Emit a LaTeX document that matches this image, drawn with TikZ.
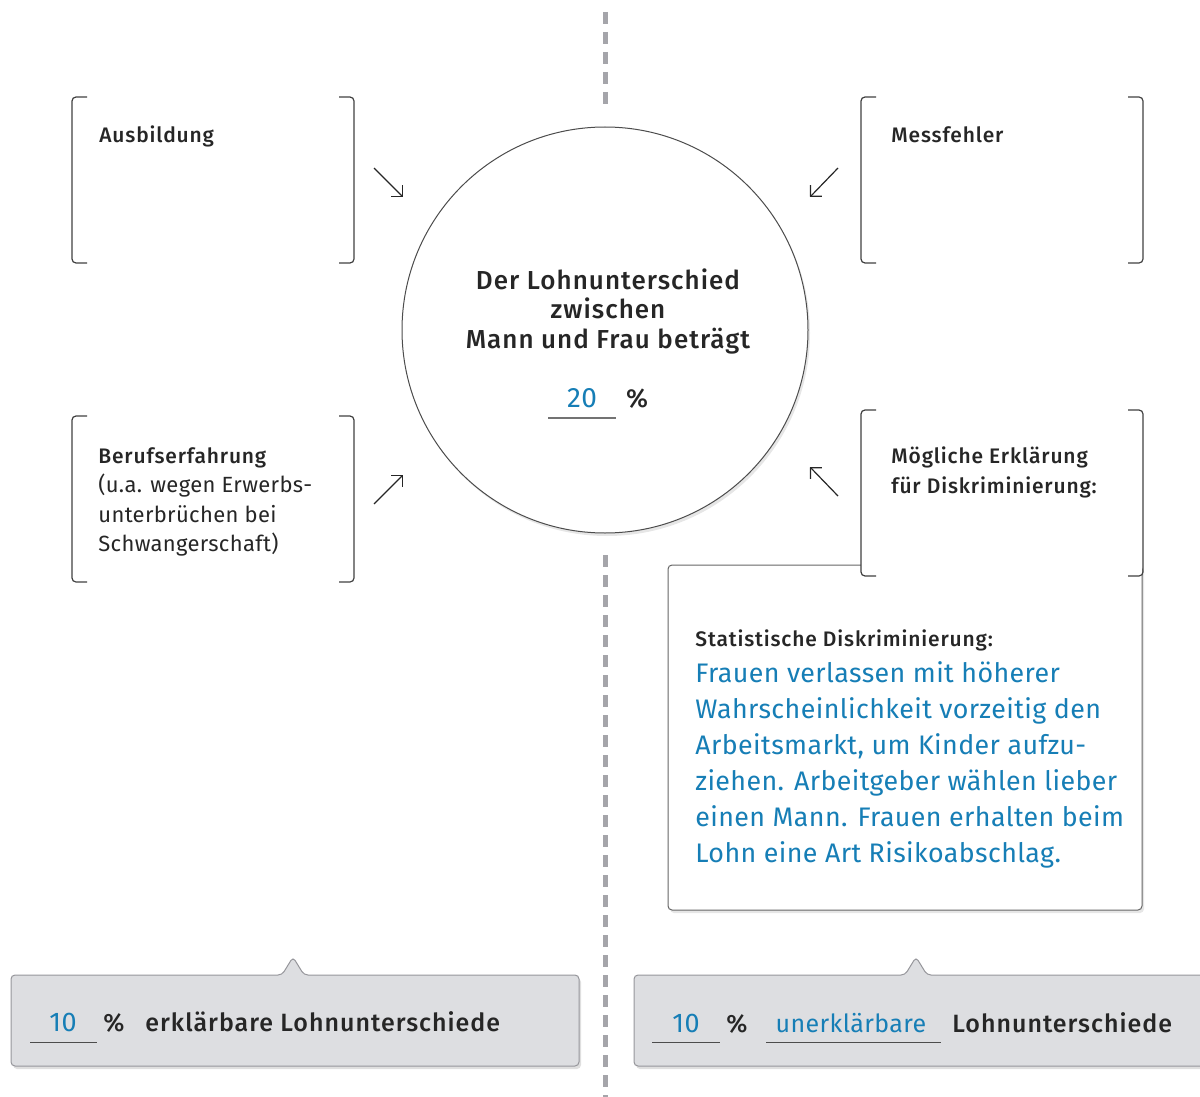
\documentclass[tikz,border=0pt]{standalone}
\usepackage{fontspec}
\setmainfont{Fira Sans}[LetterSpace=1.5, BoldFont={Fira Sans Medium}, BoldFeatures={LetterSpace=4}]
\usepackage{tikz}
\usetikzlibrary{arrows.meta}
\usetikzlibrary{shadows}

\definecolor{textblue}{RGB}{22,126,182}
\definecolor{boxgray}{RGB}{221,222,225}
\definecolor{linegray}{RGB}{150,150,155}
\definecolor{dashgray}{RGB}{165,165,170}

\tikzset{
	bracketline/.style={draw=black!75, line width=0.6pt, rounded corners=2pt},
	hintarrow/.style={draw=black!85, line width=0.6pt, -{Straight Barb[length=4pt,width=8pt]}},
	graybox/.style={fill=boxgray, draw=linegray, line width=0.5pt, rounded corners=2pt,
		drop shadow={opacity=0.25, shadow xshift=1pt, shadow yshift=-1.5pt}},
	labelbold/.style={anchor=base west, inner sep=0pt, font=\fontsize{10.5}{14}\selectfont\bfseries, text=black!85},
	labelplain/.style={anchor=base west, inner sep=0pt, font=\fontsize{11}{14}\selectfont, text=black!85},
	bluetext/.style={anchor=base west, inner sep=0pt, font=\fontsize{13.4}{18}\selectfont, text=textblue},
	sumtext/.style={anchor=base west, inner sep=0pt, font=\fontsize{12.5}{14}\selectfont\bfseries, text=black!85},
	sumnum/.style={anchor=base, inner sep=0pt, font=\fontsize{13.5}{14}\selectfont, text=textblue}
}

\begin{document}
\begin{tikzpicture}[x=0.5pt, y=-0.5pt]
		\useasboundingbox (0,0) rectangle (1200,1097);
		% dashed middle line
		\draw[dashgray, line width=2.5pt, dash pattern=on 6pt off 4pt] (605,12) -- (605,108);
		\draw[dashgray, line width=2.5pt, dash pattern=on 6pt off 4pt] (605,555) -- (605,1097);

		% central circle
		\node[circle, draw=black!70, line width=0.5pt, fill=white, minimum size=203pt, inner sep=0pt,
			drop shadow={opacity=0.2, shadow xshift=1pt, shadow yshift=-1.5pt}] (gap) at (605,330) {};
		\node[anchor=base, inner sep=0pt, font=\fontsize{13}{15}\selectfont\bfseries, text=black!85] (gaptitle) at (608,289) {Der Lohnunterschied};
		\node[anchor=base, inner sep=0pt, font=\fontsize{13}{15}\selectfont\bfseries, text=black!85] (gapwith) at (608,318) {zwischen};
		\node[anchor=base, inner sep=0pt, font=\fontsize{13}{15}\selectfont\bfseries, text=black!85] (gapmf) at (608,348) {Mann und Frau beträgt};
		\node[sumnum, font=\fontsize{14}{14}\selectfont] (gapnum) at (582,407) {20};
		\node[sumtext, anchor=base, font=\fontsize{13}{14}\selectfont\bfseries] (gappct) at (637,407) {\%};
		\coordinate (gapulA) at (548,418);
		\coordinate (gapulB) at (616,418);
		\draw[black!55, line width=0.6pt] (gapulA) -- (gapulB);

		% big explanation box
		\draw[fill=white, draw=black!60, line width=0.5pt, rounded corners=2pt,
			drop shadow={opacity=0.2, shadow xshift=1pt, shadow yshift=-1.5pt}] (668,565) rectangle (1142,910);
		\node[labelbold] (stat) at (695,646) {Statistische Diskriminierung:};
		\node[bluetext] (statA) at (695,682) {Frauen verlassen mit höherer};
		\node[bluetext] (statB) at (695,718) {Wahrscheinlichkeit vorzeitig den};
		\node[bluetext] (statC) at (695,754) {Arbeitsmarkt, um Kinder aufzu-};
		\node[bluetext] (statD) at (695,790) {ziehen. Arbeitgeber wählen lieber};
		\node[bluetext] (statE) at (695,826) {einen Mann. Frauen erhalten beim};
		\node[bluetext] (statF) at (695,862) {Lohn eine Art Risikoabschlag.};

		% bracket boxes
		\fill[white] (861,410) rectangle (1142,576);
		\foreach \bx/\by in {72/97, 861/97, 72/416, 861/410} {
			\draw[bracketline] (\bx+15,\by) -- (\bx,\by) -- (\bx,\by+166) -- (\bx+15,\by+166);
			\draw[bracketline] (\bx+267,\by) -- (\bx+282,\by) -- (\bx+282,\by+166) -- (\bx+267,\by+166);
		}
		\node[labelbold] (educ) at (99,143) {Ausbildung};
		\node[labelbold] (error) at (891,143) {Messfehler};
		\node[labelbold] (exper) at (98,463) {Berufserfahrung};
		\node[labelplain] (experA) at (98,492) {(u.a. wegen Erwerbs-};
		\node[labelplain] (experB) at (98,522) {unterbrüchen bei};
		\node[labelplain] (experC) at (98,551) {Schwangerschaft)};
		\node[labelbold] (discr) at (891,463) {Mögliche Erklärung};
		\node[labelbold] (discrB) at (891,493) {für Diskriminierung:};

		% arrows towards the circle
		\coordinate (educS) at (374,168);  \coordinate (educE) at (403,197);
		\coordinate (errorS) at (838,168); \coordinate (errorE) at (810,197);
		\coordinate (experS) at (374,504); \coordinate (experE) at (403,475);
		\coordinate (discrS) at (838,496); \coordinate (discrE) at (810,467);
		\draw[hintarrow] (educS) -- (educE);
		\draw[hintarrow] (errorS) -- (errorE);
		\draw[hintarrow] (experS) -- (experE);
		\draw[hintarrow] (discrS) -- (discrE);

		% summary boxes
		\draw[graybox] (11,975) -- (282,975) -- (293,957) -- (304,975) -- (579,975) -- (579,1066) -- (11,1066) -- cycle;
		\draw[graybox] (634,975) -- (905,975) -- (916,957) -- (927,975) -- (1210,975) -- (1210,1066) -- (634,1066) -- cycle;

		\node[sumnum] (explnum) at (63,1031) {10};
		\node[sumtext] (explpct) at (103,1031) {\%};
		\node[sumtext] (expltxt) at (145,1031) {erklärbare Lohnunterschiede};
		\coordinate (explulA) at (30,1042);
		\coordinate (explulB) at (97,1042);
		\draw[black!70, line width=0.5pt] (explulA) -- (explulB);

		\node[sumnum] (unexnum) at (686,1032) {10};
		\node[sumtext] (unexpct) at (726,1032) {\%};
		\node[sumnum, font=\fontsize{12.5}{14}\selectfont] (unexword) at (851,1032) {unerklärbare};
		\node[sumtext] (unextxt) at (952,1032) {Lohnunterschiede};
		\coordinate (unexulA) at (652,1042);
		\coordinate (unexulB) at (720,1042);
		\coordinate (wordulA) at (766,1042);
		\coordinate (wordulB) at (941,1042);
		\draw[black!70, line width=0.5pt] (unexulA) -- (unexulB);
		\draw[black!70, line width=0.5pt] (wordulA) -- (wordulB);
	\end{tikzpicture}
\end{document}
